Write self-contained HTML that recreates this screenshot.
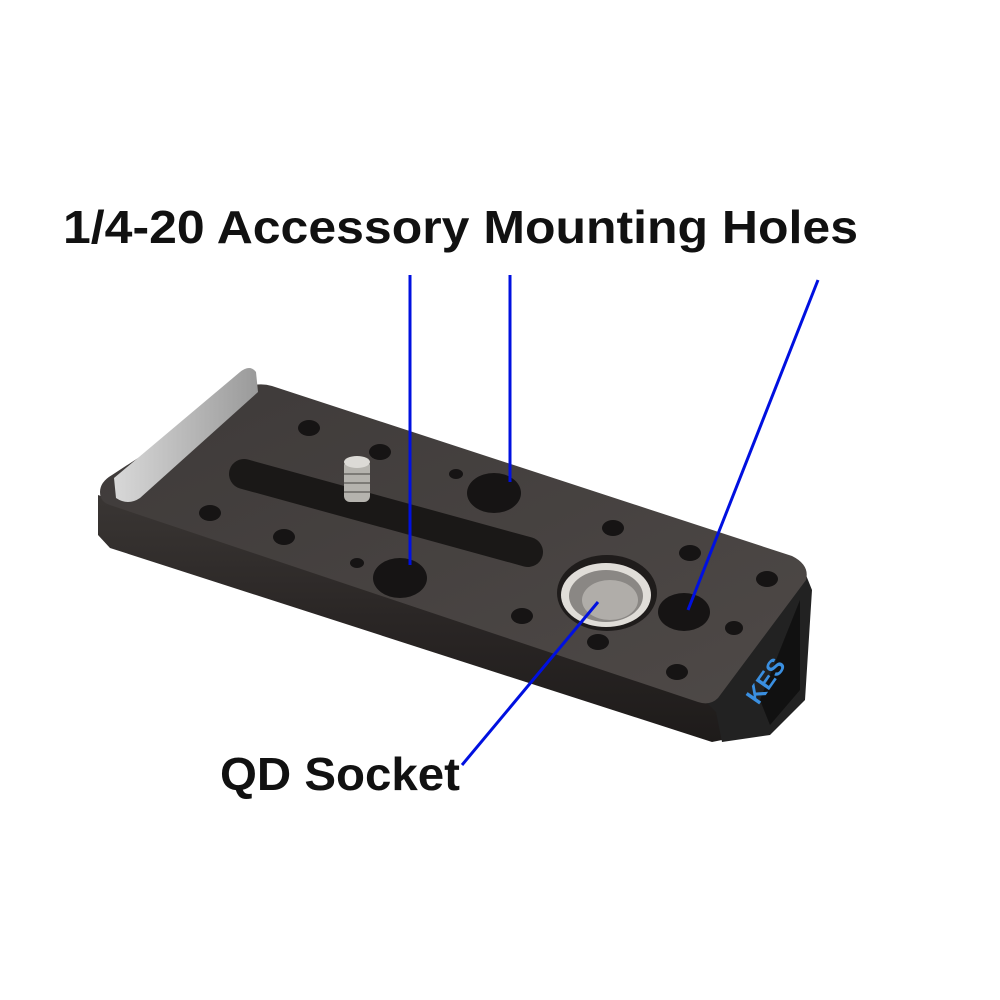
<!DOCTYPE html>
<html><head><meta charset="utf-8"><style>html,body{margin:0;padding:0;background:#fff}svg{display:block}</style></head>
<body>
<svg width="1000" height="1000" viewBox="0 0 1000 1000" xmlns="http://www.w3.org/2000/svg">
<defs>
<linearGradient id="top" x1="0" y1="0" x2="1" y2="1">
<stop offset="0" stop-color="#3e3a39"/><stop offset="1" stop-color="#4e4947"/></linearGradient>
<linearGradient id="side" x1="0" y1="0" x2="0" y2="1">
<stop offset="0" stop-color="#3a3634"/><stop offset="0.5" stop-color="#2a2625"/><stop offset="1" stop-color="#1e1b1a"/></linearGradient>
<linearGradient id="bar" x1="0" y1="0" x2="1" y2="0">
<stop offset="0" stop-color="#d8d8d8"/><stop offset="1" stop-color="#9a9a9a"/></linearGradient>
</defs>
<!-- front side -->
<path d="M98,495 L706,700 L722,708 L722,740 L712,742 L110,548 L98,535 Z" fill="url(#side)"/>
<!-- end face -->
<path d="M704,700 L806,575 L812,590 L805,700 L770,735 L722,742 L716,712 Z" fill="#222"/>
<path d="M760,700 L800,600 L800,690 L770,725 Z" fill="#111"/>
<!-- top face -->
<path d="M100,492 Q100,482 112,475 L245,388 Q258,382 272,386 L792,556 Q810,565 806,580 L718,698 Q710,706 698,702 L110,505 Q100,502 100,492 Z" fill="url(#top)"/>
<!-- slot -->
<line x1="244" y1="474" x2="528" y2="552" stroke="#1a1817" stroke-width="30" stroke-linecap="round"/>
<!-- holes -->
<g fill="#161414">
<ellipse cx="309" cy="428" rx="11" ry="8"/><ellipse cx="380" cy="452" rx="11" ry="8"/>
<ellipse cx="456" cy="474" rx="7" ry="5"/>
<ellipse cx="210" cy="513" rx="11" ry="8"/><ellipse cx="284" cy="537" rx="11" ry="8"/>
<ellipse cx="357" cy="563" rx="7" ry="5"/>
<ellipse cx="613" cy="528" rx="11" ry="8"/><ellipse cx="690" cy="553" rx="11" ry="8"/>
<ellipse cx="767" cy="579" rx="11" ry="8"/>
<ellipse cx="522" cy="616" rx="11" ry="8"/><ellipse cx="598" cy="642" rx="11" ry="8"/>
<ellipse cx="734" cy="628" rx="9" ry="7"/><ellipse cx="677" cy="672" rx="11" ry="8"/>
<ellipse cx="494" cy="493" rx="27" ry="20"/><ellipse cx="400" cy="578" rx="27" ry="20"/>
<ellipse cx="684" cy="612" rx="26" ry="19"/>
</g>
<!-- QD socket -->
<ellipse cx="607" cy="593" rx="50" ry="38" fill="#1f1c1b"/>
<ellipse cx="606" cy="595" rx="45" ry="32" fill="#e0ddd8"/>
<ellipse cx="606" cy="596" rx="37" ry="26" fill="#8a8784"/>
<ellipse cx="610" cy="600" rx="28" ry="20" fill="#b0ada9"/>
<!-- bar -->
<path d="M114,478 L240,372 Q250,364 256,372 L258,392 L140,498 Q128,506 116,498 Z" fill="url(#bar)"/>
<!-- screw -->
<rect x="344" y="460" width="26" height="42" rx="6" fill="#b5b3ae"/>
<ellipse cx="357" cy="462" rx="13" ry="6" fill="#dcdad6"/>
<g stroke="#7d7b77" stroke-width="2"><line x1="344" y1="474" x2="370" y2="474"/><line x1="344" y1="483" x2="370" y2="483"/><line x1="344" y1="492" x2="370" y2="492"/></g>
<!-- logo -->
<text x="750" y="710" font-family="Liberation Sans,sans-serif" font-weight="bold" font-size="24" fill="#3a8fe0" transform="rotate(-55 750 700)">KES</text>
<!-- lines -->
<g stroke="#0010e0" stroke-width="3" fill="none">
<line x1="410" y1="275" x2="410" y2="565"/>
<line x1="510" y1="275" x2="510" y2="482"/>
<line x1="818" y1="280" x2="688" y2="610"/>
<line x1="462" y1="765" x2="598" y2="602"/>
</g>
<text x="63" y="243" font-family="Liberation Sans,sans-serif" font-weight="bold" font-size="46" fill="#111" textLength="795" lengthAdjust="spacingAndGlyphs">1/4-20 Accessory Mounting Holes</text>
<text x="220" y="790" font-family="Liberation Sans,sans-serif" font-weight="bold" font-size="46" fill="#111" textLength="240" lengthAdjust="spacingAndGlyphs">QD Socket</text>
</svg>
</body></html>
